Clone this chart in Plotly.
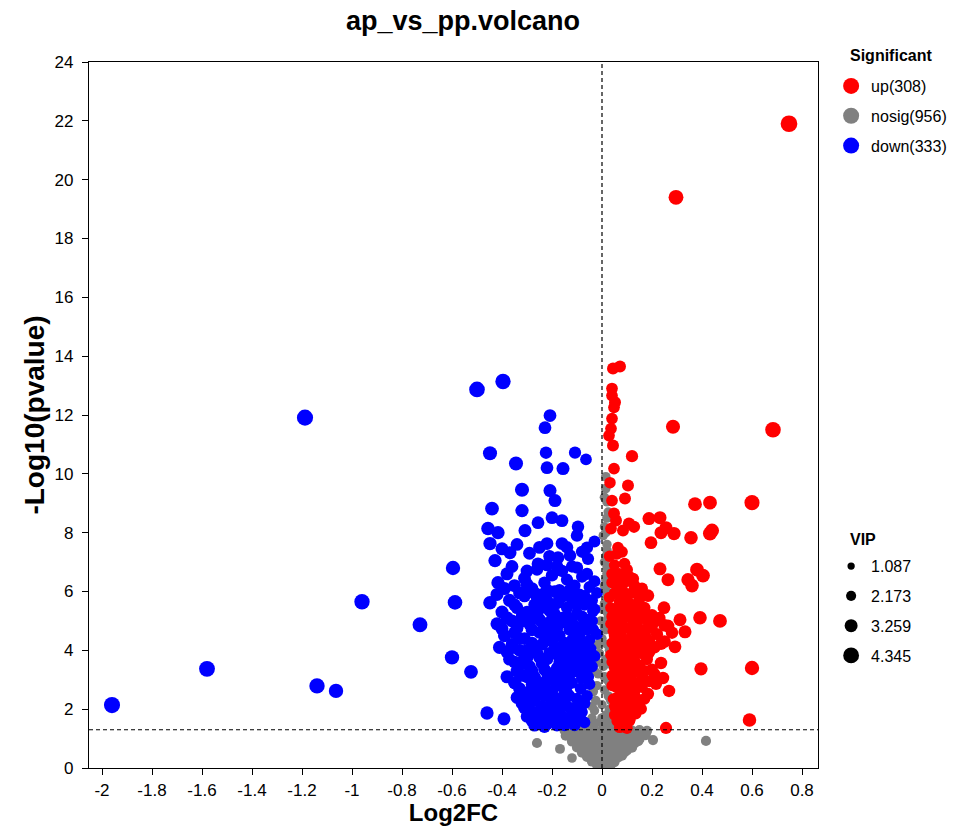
import plotly.graph_objects as go
import math

# ---------------- data ----------------
title_text = "ap_vs_pp.volcano"
legend_title = "Significant"
legend_labels = ["up(308)", "nosig(956)", "down(333)"]
vip_title = "VIP"
vip_legend_values = [1.087, 2.173, 3.259, 4.345]
x_tick_vals = [-2, -1.8, -1.6, -1.4, -1.2, -1, -0.8, -0.6, -0.4, -0.2, 0, 0.2, 0.4, 0.6, 0.8]
x_tick_text = ["-2", "-1.8", "-1.6", "-1.4", "-1.2", "-1", "-0.8", "-0.6", "-0.4", "-0.2", "0", "0.2", "0.4", "0.6", "0.8"]
y_tick_vals = [0, 2, 4, 6, 8, 10, 12, 14, 16, 18, 20, 22, 24]
p_threshold = 0.05

# distinct, readable points: (log2FC, -log10 p, VIP)
up_points = [
    (0.748, 21.9, 4.3), (0.296, 19.4, 3.6), (0.284, 11.6, 3.3), (0.684, 11.5, 3.9), (0.12, 10.6, 2.6),
    (0.372, 8.97, 3.2), (0.432, 9.02, 3.2), (0.6, 9.02, 3.7), (0.044, 13.58, 2.5), (0.072, 13.65, 2.5),
    (0.04, 12.9, 2.4), (0.04, 12.66, 2.4), (0.052, 12.43, 2.5), (0.048, 12.26, 2.4), (0.04, 11.88, 2.4),
    (0.036, 11.54, 2.4), (0.028, 11.3, 2.4), (0.044, 10.96, 2.5), (0.048, 10.18, 2.4), (0.032, 9.7, 2.3),
    (0.104, 9.6, 2.5), (0.092, 9.16, 2.5), (0.04, 9.09, 2.4), (0.048, 8.65, 2.5), (0.056, 8.41, 2.5),
    (0.036, 8.14, 2.4), (0.084, 8.07, 2.5), (0.108, 8.31, 2.6), (0.128, 8.2, 2.6), (0.188, 8.48, 2.9),
    (0.232, 8.51, 2.9), (0.256, 8.17, 2.9), (0.236, 8.0, 2.9), (0.288, 7.97, 3.0), (0.356, 7.83, 3.1),
    (0.432, 7.97, 3.3), (0.44, 8.07, 3.3), (0.196, 7.66, 2.8), (0.064, 7.49, 2.4), (0.06, 7.28, 2.4),
    (0.232, 6.77, 2.9), (0.264, 6.4, 2.9), (0.38, 6.74, 3.2), (0.404, 6.54, 3.2), (0.344, 6.4, 3.0),
    (0.36, 6.2, 3.1), (0.1, 6.74, 2.5), (0.124, 6.43, 2.6), (0.144, 6.09, 2.6), (0.184, 5.86, 2.7),
    (0.248, 5.45, 2.8), (0.392, 5.11, 3.1), (0.472, 5.0, 3.2), (0.312, 5.04, 2.9), (0.332, 4.63, 2.9),
    (0.212, 5.0, 2.7), (0.264, 4.83, 2.8), (0.164, 5.11, 2.7), (0.192, 4.77, 2.7), (0.292, 4.12, 2.8),
    (0.236, 4.22, 2.7), (0.176, 4.43, 2.6), (0.156, 4.6, 2.6), (0.184, 3.88, 2.6), (0.236, 3.57, 2.7),
    (0.396, 3.37, 3.0), (0.6, 3.4, 3.4), (0.244, 3.06, 2.7), (0.216, 2.86, 2.6), (0.268, 2.62, 2.7),
    (0.184, 2.52, 2.6), (0.156, 2.01, 2.5), (0.112, 1.67, 2.4), (0.256, 1.36, 2.6), (0.59, 1.63, 3.1),
]
# dense red body next to the threshold line
up_core = [
    (0.03, 7.2, 2.3), (0.05, 6.9, 2.3), (0.07, 6.6, 2.4), (0.04, 6.3, 2.3), (0.09, 6.95, 2.4), (0.11, 6.5, 2.4),
    (0.06, 6.15, 2.3), (0.13, 6.2, 2.5), (0.08, 7.35, 2.4), (0.04, 6.6, 2.3), (0.06, 6.45, 2.3), (0.08, 6.2, 2.4),
    (0.10, 6.35, 2.4), (0.05, 5.95, 2.3), (0.07, 5.65, 2.3), (0.09, 5.95, 2.4), (0.12, 5.95, 2.4), (0.14, 5.55, 2.5),
    (0.16, 6.1, 2.5), (0.03, 5.8, 2.3), (0.05, 5.4, 2.3), (0.07, 5.9, 2.3), (0.09, 5.2, 2.4), (0.06, 5.05, 2.3),
    (0.11, 5.6, 2.4), (0.13, 5.3, 2.4), (0.15, 5.75, 2.5), (0.04, 5.15, 2.3), (0.10, 5.85, 2.4), (0.17, 5.45, 2.5),
    (0.20, 5.2, 2.6), (0.08, 5.5, 2.3), (0.035, 5.45, 2.2), (0.045, 4.65, 2.3), (0.06, 5.25, 2.3), (0.08, 4.95, 2.3),
    (0.10, 5.3, 2.4), (0.12, 5.05, 2.4), (0.14, 4.9, 2.4), (0.16, 5.3, 2.5), (0.18, 5.05, 2.5), (0.07, 4.65, 2.3),
    (0.11, 4.75, 2.4), (0.20, 4.85, 2.6), (0.23, 5.1, 2.6), (0.035, 4.9, 2.2), (0.05, 4.5, 2.3), (0.07, 4.15, 2.3),
    (0.09, 4.75, 2.3), (0.11, 4.35, 2.4), (0.13, 4.8, 2.4), (0.15, 4.1, 2.4), (0.04, 4.25, 2.2), (0.06, 4.85, 2.3),
    (0.08, 4.45, 2.3), (0.10, 4.05, 2.3), (0.12, 4.6, 2.4), (0.14, 4.4, 2.4), (0.17, 4.7, 2.5), (0.19, 4.3, 2.5),
    (0.22, 4.55, 2.6), (0.25, 4.85, 2.7), (0.04, 3.6, 2.2), (0.05, 4.05, 2.2), (0.065, 3.85, 2.3), (0.075, 4.35, 2.3),
    (0.085, 3.7, 2.3), (0.095, 4.2, 2.3), (0.11, 3.9, 2.4), (0.12, 4.25, 2.4), (0.13, 3.65, 2.4), (0.14, 4.1, 2.4),
    (0.16, 3.9, 2.5), (0.17, 4.25, 2.5), (0.19, 3.95, 2.5), (0.21, 4.1, 2.6), (0.25, 4.3, 2.7), (0.28, 4.6, 2.7),
    (0.06, 4.35, 2.3), (0.035, 3.85, 2.2), (0.05, 3.4, 2.2), (0.07, 3.75, 2.3), (0.09, 3.1, 2.3), (0.11, 3.55, 2.3),
    (0.13, 3.9, 2.4), (0.04, 3.15, 2.2), (0.06, 3.6, 2.3), (0.08, 3.3, 2.3), (0.10, 3.85, 2.3), (0.12, 3.2, 2.4),
    (0.15, 3.5, 2.4), (0.18, 3.7, 2.5), (0.16, 3.1, 2.4), (0.20, 3.35, 2.5), (0.09, 3.95, 2.3), (0.045, 3.1, 2.2),
    (0.055, 2.75, 2.2), (0.065, 3.3, 2.3), (0.075, 2.6, 2.3), (0.085, 3.05, 2.3), (0.095, 3.45, 2.3), (0.105, 2.7, 2.3),
    (0.115, 3.2, 2.4), (0.125, 2.85, 2.4), (0.135, 3.35, 2.4), (0.145, 2.9, 2.4), (0.17, 3.3, 2.5), (0.19, 2.95, 2.5),
    (0.21, 3.2, 2.5), (0.13, 2.6, 2.4), (0.04, 2.8, 2.2), (0.06, 2.4, 2.2), (0.08, 2.85, 2.3), (0.10, 2.2, 2.3),
    (0.12, 2.6, 2.3), (0.05, 2.1, 2.2), (0.07, 2.95, 2.3), (0.09, 2.5, 2.3), (0.11, 2.9, 2.3), (0.14, 2.35, 2.4),
    (0.16, 2.75, 2.4), (0.13, 2.05, 2.4), (0.045, 2.35, 2.2), (0.055, 2.0, 2.2), (0.065, 2.25, 2.2), (0.075, 1.7, 2.2),
    (0.085, 2.15, 2.3), (0.095, 1.55, 2.3), (0.105, 2.45, 2.3), (0.115, 2.0, 2.3), (0.125, 2.3, 2.3), (0.135, 1.85, 2.4),
    (0.15, 2.2, 2.4), (0.06, 1.6, 2.2), (0.08, 1.85, 2.2), (0.10, 1.35, 2.3), (0.17, 2.35, 2.4), (0.07, 1.38, 2.2),
    (0.05, 1.8, 2.2), (0.07, 1.5, 2.2), (0.09, 1.9, 2.3), (0.11, 1.6, 2.3), (0.06, 1.95, 2.2), (0.08, 1.4, 2.2),
    (0.10, 1.75, 2.3),
]

down_points = [
    (-1.96, 2.14, 4.1), (-1.58, 3.37, 4.0), (-1.188, 11.91, 4.1), (-1.14, 2.79, 3.8), (-1.064, 2.62, 3.4),
    (-0.96, 5.65, 3.8), (-0.728, 4.87, 3.6), (-0.6, 3.76, 3.4), (-0.588, 5.63, 3.5), (-0.596, 6.8, 3.4),
    (-0.524, 3.27, 3.2), (-0.5, 12.87, 3.9), (-0.396, 13.14, 3.8), (-0.448, 10.7, 3.3), (-0.344, 10.35, 3.3),
    (-0.32, 9.46, 3.3), (-0.46, 1.87, 3.0), (-0.392, 1.67, 2.9), (-0.208, 11.98, 2.8), (-0.228, 11.57, 2.8),
    (-0.224, 10.72, 2.7), (-0.22, 10.21, 2.8), (-0.156, 10.18, 2.9), (-0.108, 10.72, 2.6), (-0.064, 10.49, 2.4),
    (-0.208, 9.43, 2.9), (-0.188, 9.09, 2.9), (-0.44, 8.82, 3.2), (-0.32, 8.75, 3.0), (-0.256, 8.34, 2.8),
    (-0.2, 8.51, 2.8), (-0.16, 8.41, 2.8), (-0.096, 8.2, 2.7), (-0.456, 8.14, 3.1), (-0.416, 8.0, 3.0),
    (-0.308, 8.07, 2.9), (-0.448, 7.63, 3.0), (-0.22, 7.63, 2.8), (-0.16, 7.63, 2.8), (-0.1, 7.9, 2.7),
    (-0.06, 7.49, 2.6), (-0.368, 7.32, 2.9), (-0.428, 7.05, 3.0), (-0.256, 6.94, 2.8), (-0.176, 7.15, 2.8),
    (-0.128, 7.22, 2.7), (-0.056, 7.11, 2.6), (-0.416, 6.3, 3.0), (-0.448, 5.62, 3.1), (-0.4, 4.73, 2.9),
    (-0.36, 4.09, 2.8), (-0.328, 3.57, 2.8), (-0.348, 2.89, 2.8), (-0.316, 2.38, 2.8), (-0.24, 1.6, 2.7),
    (-0.1, 6.81, 2.6), (-0.088, 5.69, 2.6), (-0.036, 5.34, 2.5),
]
# dense blue body
down_core = [
    (-0.34, 7.6, 2.8), (-0.29, 7.3, 2.8), (-0.25, 7.5, 2.8), (-0.21, 7.2, 2.7), (-0.14, 7.5, 2.7), (-0.08, 7.35, 2.6),
    (-0.03, 7.7, 2.5), (-0.18, 6.85, 2.7), (-0.40, 7.45, 2.9), (-0.36, 6.85, 2.8), (-0.30, 6.7, 2.8), (-0.22, 6.9, 2.7),
    (-0.16, 6.7, 2.7), (-0.12, 6.85, 2.6), (-0.06, 6.6, 2.6), (-0.03, 6.35, 2.5), (-0.38, 6.6, 2.9), (-0.35, 6.2, 2.8),
    (-0.31, 6.45, 2.8), (-0.28, 6.1, 2.8), (-0.26, 6.75, 2.7), (-0.23, 6.3, 2.7), (-0.20, 6.55, 2.7), (-0.17, 6.05, 2.6),
    (-0.14, 6.4, 2.6), (-0.11, 6.2, 2.6), (-0.08, 6.5, 2.5), (-0.05, 6.15, 2.5), (-0.33, 5.95, 2.8), (-0.24, 5.9, 2.7),
    (-0.19, 6.0, 2.7), (-0.12, 5.95, 2.6), (-0.42, 5.9, 2.9), (-0.39, 6.1, 2.9), (-0.30, 6.25, 2.8), (-0.27, 5.95, 2.8),
    (-0.22, 6.05, 2.7), (-0.17, 5.75, 2.7), (-0.13, 6.05, 2.6), (-0.10, 5.55, 2.6), (-0.07, 5.85, 2.5), (-0.04, 5.7, 2.5),
    (-0.02, 5.95, 2.4), (-0.35, 5.55, 2.8), (-0.24, 5.45, 2.7), (-0.20, 5.5, 2.7), (-0.40, 5.3, 2.9), (-0.37, 5.7, 2.9),
    (-0.34, 5.45, 2.8), (-0.31, 5.85, 2.8), (-0.29, 5.2, 2.8), (-0.27, 5.55, 2.7), (-0.25, 5.05, 2.7), (-0.22, 5.7, 2.7),
    (-0.21, 5.35, 2.7), (-0.18, 5.6, 2.6), (-0.16, 5.1, 2.6), (-0.14, 5.45, 2.6), (-0.12, 5.75, 2.6), (-0.10, 5.25, 2.5),
    (-0.07, 5.55, 2.5), (-0.05, 5.05, 2.5), (-0.03, 5.4, 2.4), (-0.36, 5.0, 2.8), (-0.26, 5.8, 2.7), (-0.15, 5.85, 2.6),
    (-0.09, 5.9, 2.5), (-0.32, 5.15, 2.8), (-0.19, 5.25, 2.6), (-0.42, 4.9, 2.9), (-0.38, 5.1, 2.9), (-0.35, 4.6, 2.8),
    (-0.33, 4.95, 2.8), (-0.30, 5.3, 2.8), (-0.28, 4.7, 2.8), (-0.26, 5.2, 2.7), (-0.23, 4.8, 2.7), (-0.20, 5.05, 2.7),
    (-0.18, 4.75, 2.6), (-0.14, 5.15, 2.6), (-0.12, 4.95, 2.6), (-0.08, 5.15, 2.5), (-0.06, 4.7, 2.5), (-0.04, 5.0, 2.5),
    (-0.02, 4.55, 2.4), (-0.11, 4.5, 2.5), (-0.22, 4.5, 2.7), (-0.33, 4.4, 2.8), (-0.39, 4.5, 2.9), (-0.36, 4.2, 2.8),
    (-0.34, 4.75, 2.8), (-0.31, 4.4, 2.8), (-0.29, 4.9, 2.8), (-0.27, 4.1, 2.7), (-0.25, 4.6, 2.7), (-0.23, 4.3, 2.7),
    (-0.21, 4.85, 2.7), (-0.19, 4.05, 2.6), (-0.17, 4.5, 2.6), (-0.15, 4.25, 2.6), (-0.13, 4.7, 2.6), (-0.11, 4.15, 2.5),
    (-0.09, 4.55, 2.5), (-0.07, 4.9, 2.5), (-0.05, 4.35, 2.4), (-0.035, 4.7, 2.4), (-0.30, 4.0, 2.8), (-0.20, 4.65, 2.7),
    (-0.10, 4.8, 2.5), (-0.16, 4.95, 2.6), (-0.24, 4.95, 2.7), (-0.06, 4.1, 2.4), (-0.41, 4.1, 2.9), (-0.38, 3.95, 2.9),
    (-0.35, 3.6, 2.8), (-0.33, 4.0, 2.8), (-0.30, 3.75, 2.8), (-0.28, 4.25, 2.7), (-0.26, 3.9, 2.7), (-0.24, 4.2, 2.7),
    (-0.22, 3.7, 2.7), (-0.20, 4.3, 2.6), (-0.18, 3.85, 2.6), (-0.16, 4.15, 2.6), (-0.14, 3.7, 2.6), (-0.12, 4.35, 2.5),
    (-0.10, 3.95, 2.5), (-0.08, 4.3, 2.5), (-0.06, 3.75, 2.4), (-0.045, 4.05, 2.4), (-0.03, 3.8, 2.4), (-0.09, 3.6, 2.5),
    (-0.37, 3.7, 2.8), (-0.34, 3.3, 2.8), (-0.31, 3.85, 2.8), (-0.29, 3.45, 2.8), (-0.27, 3.1, 2.7), (-0.25, 3.75, 2.7),
    (-0.23, 3.35, 2.7), (-0.21, 3.9, 2.7), (-0.19, 3.2, 2.6), (-0.17, 3.6, 2.6), (-0.15, 3.05, 2.6), (-0.13, 3.45, 2.6),
    (-0.11, 3.8, 2.5), (-0.09, 3.25, 2.5), (-0.07, 3.6, 2.5), (-0.055, 3.1, 2.4), (-0.04, 3.45, 2.4), (-0.32, 3.15, 2.8),
    (-0.22, 3.0, 2.7), (-0.14, 3.95, 2.6), (-0.08, 3.95, 2.5), (-0.18, 3.4, 2.6), (-0.38, 3.1, 2.9), (-0.35, 2.9, 2.8),
    (-0.33, 3.5, 2.8), (-0.30, 3.1, 2.8), (-0.28, 3.3, 2.8), (-0.26, 2.95, 2.7), (-0.24, 3.55, 2.7), (-0.22, 3.25, 2.7),
    (-0.20, 2.6, 2.6), (-0.18, 3.05, 2.6), (-0.16, 3.3, 2.6), (-0.14, 2.8, 2.6), (-0.12, 3.25, 2.5), (-0.10, 3.55, 2.5),
    (-0.08, 3.05, 2.5), (-0.06, 3.35, 2.4), (-0.05, 2.85, 2.4), (-0.25, 2.75, 2.7), (-0.29, 2.6, 2.7), (-0.15, 2.55, 2.6),
    (-0.33, 2.7, 2.8), (-0.30, 2.3, 2.8), (-0.28, 2.85, 2.7), (-0.26, 2.5, 2.7), (-0.24, 2.1, 2.7), (-0.22, 2.65, 2.7),
    (-0.20, 2.3, 2.6), (-0.18, 2.8, 2.6), (-0.16, 2.15, 2.6), (-0.14, 2.55, 2.6), (-0.12, 2.9, 2.5), (-0.10, 2.35, 2.5),
    (-0.085, 2.7, 2.5), (-0.07, 2.2, 2.4), (-0.31, 2.05, 2.8), (-0.19, 2.95, 2.6), (-0.13, 2.05, 2.5), (-0.34, 2.4, 2.8),
    (-0.32, 2.2, 2.8), (-0.29, 2.0, 2.7), (-0.27, 2.3, 2.7), (-0.25, 1.95, 2.7), (-0.23, 2.45, 2.7), (-0.21, 2.1, 2.6),
    (-0.19, 2.4, 2.6), (-0.17, 2.0, 2.6), (-0.15, 2.3, 2.6), (-0.13, 2.45, 2.5), (-0.11, 2.05, 2.5), (-0.09, 2.25, 2.5),
    (-0.08, 1.9, 2.4), (-0.06, 2.45, 2.4), (-0.28, 1.6, 2.7), (-0.26, 1.85, 2.7), (-0.23, 1.4, 2.6), (-0.21, 1.7, 2.6),
    (-0.19, 1.55, 2.6), (-0.17, 1.85, 2.6), (-0.15, 1.45, 2.5), (-0.13, 1.7, 2.5), (-0.11, 1.45, 2.5), (-0.09, 1.7, 2.4),
    (-0.07, 1.55, 2.4), (-0.30, 1.75, 2.7), (-0.27, 1.45, 2.7), (-0.24, 1.8, 2.6), (-0.22, 1.5, 2.6), (-0.20, 1.9, 2.6),
    (-0.18, 1.45, 2.6), (-0.16, 1.75, 2.5), (-0.14, 1.55, 2.5), (-0.12, 1.85, 2.5), (-0.10, 1.6, 2.4), (-0.25, 1.6, 2.6),
]

nosig_points = [
    (-0.26, 0.85, 1.8), (-0.168, 0.65, 1.7), (-0.12, 0.34, 1.6), (0.204, 0.95, 1.8), (0.416, 0.92, 1.8),
    (0.015, 9.9, 1.6), (0.02, 9.05, 1.6), (0.025, 8.7, 1.6), (0.02, 7.6, 1.5), (0.015, 7.2, 1.5), (0.02, 6.8, 1.5),
    (0.015, 6.4, 1.5), (0.02, 6.0, 1.5), (0.01, 5.6, 1.5), (0.02, 5.3, 1.5), (-0.005, 5.0, 1.5), (0.015, 4.7, 1.5),
    (0.0, 4.4, 1.5), (0.02, 4.2, 1.5), (-0.01, 3.9, 1.5), (0.015, 3.7, 1.5), (0.005, 3.45, 1.5), (-0.015, 3.2, 1.5),
    (0.02, 3.0, 1.5), (-0.02, 2.8, 1.5), (0.01, 2.65, 1.5), (0.025, 2.45, 1.5), (-0.025, 2.3, 1.5), (0.0, 2.15, 1.5),
    (0.03, 2.0, 1.5), (-0.03, 1.95, 1.5), (0.015, 1.8, 1.5), (-0.04, 1.7, 1.5), (0.04, 1.65, 1.5), (-0.01, 1.55, 1.5),
    (0.02, 1.45, 1.5), (-0.05, 1.45, 1.5), (0.05, 1.4, 1.5), (0.01, 8.2, 1.5), (0.015, 9.5, 1.6), (0.02, 5.85, 1.5),
    (0.005, 7.9, 1.5), (-0.03, 1.5, 1.6), (0.0, 1.7, 1.6), (0.03, 1.55, 1.6), (-0.04, 2.1, 1.6), (0.035, 2.3, 1.6),
    (-0.035, 2.6, 1.6), (0.03, 2.9, 1.6), (-0.03, 3.3, 1.6), (0.01, 3.1, 1.6), (0.025, 3.55, 1.6), (-0.02, 3.6, 1.6),
    (0.03, 4.0, 1.6), (-0.015, 4.2, 1.6), (0.01, 4.8, 1.6), (0.025, 5.1, 1.6), (0.0, 5.4, 1.6), (0.025, 5.8, 1.6),
    (0.01, 6.2, 1.6), (0.02, 6.6, 1.6), (0.01, 7.0, 1.6), (0.02, 7.4, 1.6), (0.015, 8.0, 1.6), (0.02, 8.5, 1.6),
    (0.01, 9.2, 1.6),
    (-0.15, 1.28, 1.8), (-0.12, 1.27, 1.8), (-0.09, 1.29, 1.8), (-0.06, 1.26, 1.8), (-0.03, 1.28, 1.8), (0.0, 1.27, 1.8),
    (0.03, 1.29, 1.8), (0.06, 1.26, 1.8), (0.09, 1.28, 1.8), (0.12, 1.27, 1.8), (0.15, 1.29, 1.8), (0.18, 1.26, 1.8),
    (-0.13, 1.22, 1.8), (-0.10, 1.18, 1.8), (-0.07, 1.25, 1.8), (-0.04, 1.15, 1.8), (-0.01, 1.2, 1.8), (0.02, 1.24, 1.8),
    (0.05, 1.17, 1.8), (0.08, 1.21, 1.8), (0.11, 1.19, 1.8), (0.14, 1.23, 1.8), (0.17, 1.16, 1.8),
    (-0.145, 1.1, 1.8), (-0.115, 1.08, 1.8), (-0.085, 1.12, 1.8), (-0.055, 1.09, 1.8), (-0.025, 1.11, 1.8),
    (0.005, 1.08, 1.8), (0.035, 1.12, 1.8), (0.065, 1.1, 1.8), (0.095, 1.09, 1.8), (0.125, 1.11, 1.8),
    (0.155, 1.08, 1.8), (0.175, 1.12, 1.8),
    (-0.12, 1.0, 1.8), (-0.09, 0.97, 1.8), (-0.06, 1.03, 1.8), (-0.03, 0.98, 1.8), (0.0, 1.02, 1.8), (0.03, 0.96, 1.8),
    (0.06, 1.01, 1.8), (0.09, 0.99, 1.8), (0.12, 1.04, 1.8), (0.15, 0.98, 1.8),
    (-0.12, 0.9, 1.8), (-0.09, 0.88, 1.8), (-0.06, 0.91, 1.8), (-0.03, 0.89, 1.8), (0.0, 0.9, 1.8), (0.03, 0.92, 1.8),
    (0.06, 0.88, 1.8), (0.09, 0.9, 1.8), (0.12, 0.89, 1.8), (0.145, 0.91, 1.8),
    (-0.10, 0.8, 1.8), (-0.07, 0.78, 1.8), (-0.04, 0.83, 1.8), (-0.01, 0.79, 1.8), (0.02, 0.82, 1.8), (0.05, 0.77, 1.8),
    (0.08, 0.81, 1.8), (0.11, 0.8, 1.8), (0.13, 0.84, 1.8),
    (-0.10, 0.7, 1.8), (-0.075, 0.68, 1.8), (-0.045, 0.71, 1.8), (-0.015, 0.69, 1.8), (0.015, 0.72, 1.8),
    (0.045, 0.68, 1.8), (0.075, 0.7, 1.8), (0.10, 0.71, 1.8), (0.12, 0.69, 1.8),
    (-0.08, 0.6, 1.8), (-0.05, 0.62, 1.8), (-0.02, 0.58, 1.8), (0.01, 0.61, 1.8), (0.04, 0.59, 1.8), (0.07, 0.63, 1.8),
    (0.10, 0.6, 1.8),
    (-0.08, 0.52, 1.8), (-0.055, 0.5, 1.8), (-0.025, 0.53, 1.8), (0.005, 0.51, 1.8), (0.035, 0.52, 1.8),
    (0.065, 0.5, 1.8), (0.09, 0.53, 1.8),
    (-0.06, 0.45, 1.8), (-0.03, 0.43, 1.8), (0.0, 0.47, 1.8), (0.03, 0.44, 1.8), (0.06, 0.46, 1.8), (0.08, 0.42, 1.8),
    (-0.06, 0.38, 1.8), (-0.035, 0.36, 1.8), (-0.01, 0.39, 1.8), (0.015, 0.37, 1.8), (0.04, 0.38, 1.8), (0.065, 0.36, 1.8),
    (-0.04, 0.3, 1.8), (-0.01, 0.28, 1.8), (0.02, 0.32, 1.8), (0.05, 0.29, 1.8),
    (-0.04, 0.22, 1.8), (-0.015, 0.21, 1.8), (0.01, 0.23, 1.8), (0.035, 0.22, 1.8), (0.05, 0.2, 1.8),
    (-0.02, 0.15, 1.8), (0.01, 0.17, 1.8), (0.03, 0.14, 1.8),
    (-0.02, 0.1, 1.8), (0.0, 0.09, 1.8), (0.02, 0.11, 1.8), (0.035, 0.1, 1.8),
    (0.0, 0.05, 1.8), (0.015, 0.07, 1.8),
]

# ---------------- styling ----------------
FONT = "Arial, 'Liberation Sans', sans-serif"
COLORS = {"up": "#FF0000", "nosig": "#808080", "down": "#0000FF"}


def vip_size(v):
    return 5.5 + 2.6 * v


fig = go.Figure()

groups = [("nosig", nosig_points), ("up", up_points + up_core), ("down", down_points + down_core)]
for name, pts in groups:
    xs = [p[0] for p in pts]
    ys = [p[1] for p in pts]
    ss = [vip_size(p[2]) for p in pts]
    fig.add_trace(go.Scatter(
        x=xs, y=ys, mode="markers", showlegend=False, name=name,
        marker=dict(color=COLORS[name], size=ss, line=dict(width=0), opacity=1),
        hoverinfo="skip"))

# legend: significance
for key, label in zip(["up", "nosig", "down"], legend_labels):
    fig.add_trace(go.Scatter(
        x=[None], y=[None], mode="markers", name=label, legend="legend", legendgroup=key,
        marker=dict(color=COLORS[key], size=17)))

# legend: VIP size
for v in vip_legend_values:
    fig.add_trace(go.Scatter(
        x=[None], y=[None], mode="markers", name=f"{v:.3f}", legend="legend2", legendgroup=f"vip{v}",
        marker=dict(color="black", size=vip_size(v) - 1)))

fig.add_hline(y=-math.log10(p_threshold), line=dict(color="black", width=1.2, dash="4px,3px"))
fig.add_vline(x=0, line=dict(color="black", width=1.2, dash="4px,3px"))

axis_common = dict(showline=True, linecolor="black", linewidth=1.2, mirror=True,
                   ticks="outside", ticklen=6, tickcolor="black", tickwidth=1.2,
                   showgrid=False, zeroline=False,
                   tickfont=dict(family=FONT, size=17, color="black"))

fig.update_layout(
    width=961, height=832,
    paper_bgcolor="white", plot_bgcolor="white",
    margin=dict(l=89, r=143, t=62, b=64, autoexpand=False),
    title=dict(text=f"<b>{title_text}</b>", x=463 / 961, xanchor="center", y=1 - 21 / 832, yanchor="middle",
               font=dict(family=FONT, size=27, color="black")),
    xaxis=dict(range=[-2.052, 0.864], tickvals=x_tick_vals, ticktext=x_tick_text,
               title=dict(text="<b>Log2FC</b>", font=dict(family=FONT, size=24, color="black"), standoff=3),
               **axis_common),
    yaxis=dict(range=[0, 24], tickvals=y_tick_vals, ticklabelstandoff=5,
               title=dict(text="<b>-Log10(pvalue)</b>", font=dict(family=FONT, size=28, color="black"), standoff=1),
               **axis_common),
    legend=dict(x=1.018, xanchor="left", y=0.99, yanchor="top",
                font=dict(family=FONT, size=16, color="black"), itemsizing="trace",
                tracegroupgap=6, bgcolor="rgba(0,0,0,0)"),
    legend2=dict(x=1.018, xanchor="left", y=0.31, yanchor="top",
                 font=dict(family=FONT, size=16, color="black"), itemsizing="trace",
                 tracegroupgap=6, bgcolor="rgba(0,0,0,0)"),
    annotations=[
        dict(text=f"<b>{legend_title}</b>", xref="paper", yref="paper", x=1.041, y=1.0099,
             xanchor="left", yanchor="middle", showarrow=False,
             font=dict(family=FONT, size=16, color="black")),
        dict(text=f"<b>{vip_title}</b>", xref="paper", yref="paper", x=1.041, y=0.323,
             xanchor="left", yanchor="middle", showarrow=False,
             font=dict(family=FONT, size=16, color="black")),
    ],
    font=dict(family=FONT, color="black"),
)

# the page body has a default 8px margin; remove it so the 961x832 figure fills the window exactly
fig.write_html("out.html", config={"displayModeBar": False},
               post_script="document.body.style.margin='0';")
